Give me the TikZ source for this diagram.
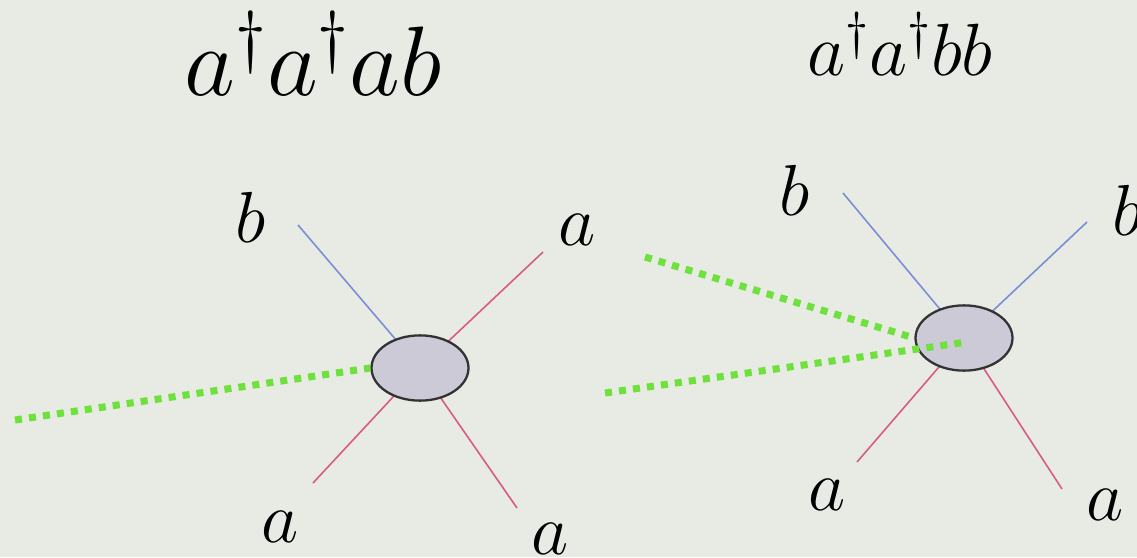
\RequirePackage{fix-cm}
\documentclass[tikz,border=0pt]{standalone}
\usetikzlibrary{shapes.geometric}
\definecolor{bg}{RGB}{232,234,228}
\definecolor{bline}{RGB}{125,140,215}
\definecolor{pline}{RGB}{215,90,135}
\definecolor{gdot}{RGB}{110,225,60}
\definecolor{blobfill}{RGB}{204,202,214}
\tikzset{
  px/.style={x=0.567pt,y=-0.567pt},
  legb/.style={draw=bline,line width=0.9pt},
  lega/.style={draw=pline,line width=0.9pt},
  ghost/.style={draw=gdot,line width=4pt,dash pattern=on 4pt off 4pt},
  blob/.style={ellipse,draw=black!80,line width=1.3pt,fill=blobfill,minimum width=55pt,minimum height=37pt,inner sep=0pt},
  lbl/.style={inner sep=0pt,font=\fontsize{41}{45}\selectfont},
  ttl/.style={inner sep=0pt,anchor=base},
}
\begin{document}
\begin{tikzpicture}[px]
\fill[bg] (0,0) rectangle (1137,557);
\useasboundingbox (0,0) rectangle (1137,557);
% ---- left diagram
\coordinate (Lc) at (420,368);
\coordinate (L1) at (298,225);
\coordinate (L2) at (543,252);
\coordinate (L3) at (313,483);
\coordinate (L4) at (517,508);
\coordinate (Lg) at (15,420);
\draw[legb] (L1) -- (Lc);
\draw[lega] (L2) -- (Lc);
\draw[lega] (L3) -- (Lc);
\draw[lega] (L4) -- (Lc);
\node[blob] (LB) at (Lc) {};
\draw[ghost] (Lg) -- (LB.west);
\node[ttl,font=\fontsize{56}{60}\selectfont] (T1) at (313,95) {$a^\dagger a^\dagger ab$};
\node[lbl] (lb1) at (251,217) {$b$};
\node[lbl] (la1) at (577,230) {$a$};
\node[lbl] (la2) at (280,527) {$a$};
\node[lbl] (la3) at (550,539) {$a$};
% ---- right diagram
\coordinate (Rc) at (964,338);
\coordinate (R1) at (843,193);
\coordinate (R2) at (1087,222);
\coordinate (R3) at (857,462);
\coordinate (R4) at (1062,489);
\coordinate (Rg1) at (645,257);
\coordinate (Rg2) at (605,393);
\coordinate (Rge) at (967,342);
\draw[legb] (R1) -- (Rc);
\draw[legb] (R2) -- (Rc);
\draw[lega] (R3) -- (Rc);
\draw[lega] (R4) -- (Rc);
\node[blob] (RB) at (Rc) {};
\draw[ghost] (Rg1) -- (RB.west);
\draw[ghost] (Rg2) -- (Rge);
\node[ttl,font=\fontsize{42}{46}\selectfont] (T2) at (900,75) {$a^\dagger a^\dagger bb$};
\node[lbl] (rb1) at (795,190) {$b$};
\node[lbl] (rb2) at (1128,210) {$b$};
\node[lbl] (ra1) at (827,495) {$a$};
\node[lbl] (ra2) at (1105,505) {$a$};
\end{tikzpicture}
\end{document}
